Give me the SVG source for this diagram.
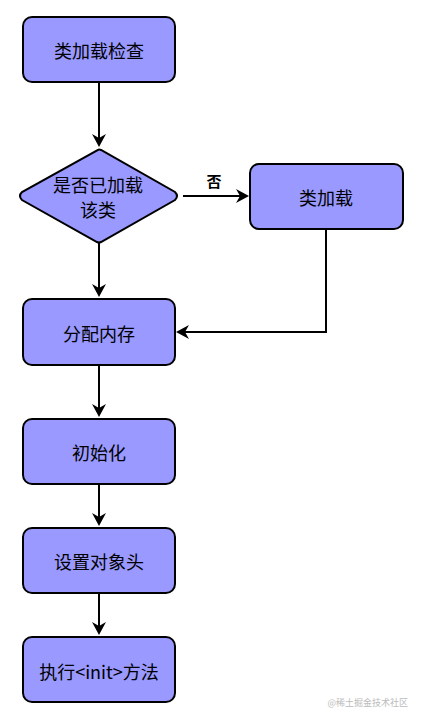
<svg xmlns="http://www.w3.org/2000/svg" width="422" height="720" viewBox="0 0 422 720">
<style>
.box{fill:#9999ff;stroke:#000;stroke-width:2}
.t{font-family:"Noto Sans CJK SC","Liberation Sans",sans-serif;font-size:18px;fill:#000;text-anchor:middle;dominant-baseline:central}
.e{fill:none;stroke:#000;stroke-width:2}
.h{fill:#000}
</style>
<rect width="422" height="720" fill="#fff"/>
<g id="connectors">
<path class="e" d="M99,82 V142"/>
<path class="h" d="M92,134 L99,147 L106,134 L99,138 Z"/>
<path class="e" d="M183,196 H241"/>
<path class="h" d="M236,189 L249,196 L236,203 L240,196 Z"/>
<text x="214" y="180" class="t" style="font-size:15px;font-weight:bold">否</text>
<path class="e" d="M99,243 V291"/>
<path class="h" d="M92,284 L99,297 L106,284 L99,288 Z"/>
<path class="e" d="M326,229 V332 H184"/>
<path class="h" d="M189,325 L176,332 L189,339 L185,332 Z"/>
<path class="e" d="M99,365 V411"/>
<path class="h" d="M92,404 L99,417 L106,404 L99,408 Z"/>
<path class="e" d="M99,484 V520"/>
<path class="h" d="M92,513 L99,526 L106,513 L99,517 Z"/>
<path class="e" d="M99,593 V629"/>
<path class="h" d="M92,622 L99,635 L106,622 L99,626 Z"/>
</g>
<g id="n1"><rect class="box" x="23" y="17" width="152" height="65" rx="9"/><text class="t" x="99" y="50">类加载检查</text></g>
<g id="n2"><path class="box" d="M98,150 Q99,149 101,150 L175,192 Q179,196 175,200 L101,242 Q99,243 97,242 L22,200 Q18,196 22,192 Z"/><text class="t" x="98" y="184">是否已加载</text><text class="t" x="98" y="209">该类</text></g>
<g id="n3"><rect class="box" x="250" y="164" width="153" height="65" rx="9"/><text class="t" x="326" y="197">类加载</text></g>
<g id="n4"><rect class="box" x="23" y="299" width="152" height="66" rx="9"/><text class="t" x="99" y="333">分配内存</text></g>
<g id="n5"><rect class="box" x="23" y="419" width="152" height="65" rx="9"/><text class="t" x="99" y="452">初始化</text></g>
<g id="n6"><rect class="box" x="23" y="528" width="152" height="65" rx="9"/><text class="t" x="99" y="561">设置对象头</text></g>
<g id="n7"><rect class="box" x="23" y="637" width="152" height="65" rx="9"/><text class="t" x="99" y="671">执行&lt;init&gt;方法</text></g>
<text x="408" y="702" style="font-family:'Noto Sans CJK SC',sans-serif;font-size:9px;fill:#bbb;text-anchor:end;dominant-baseline:central">@稀土掘金技术社区</text>
</svg>
